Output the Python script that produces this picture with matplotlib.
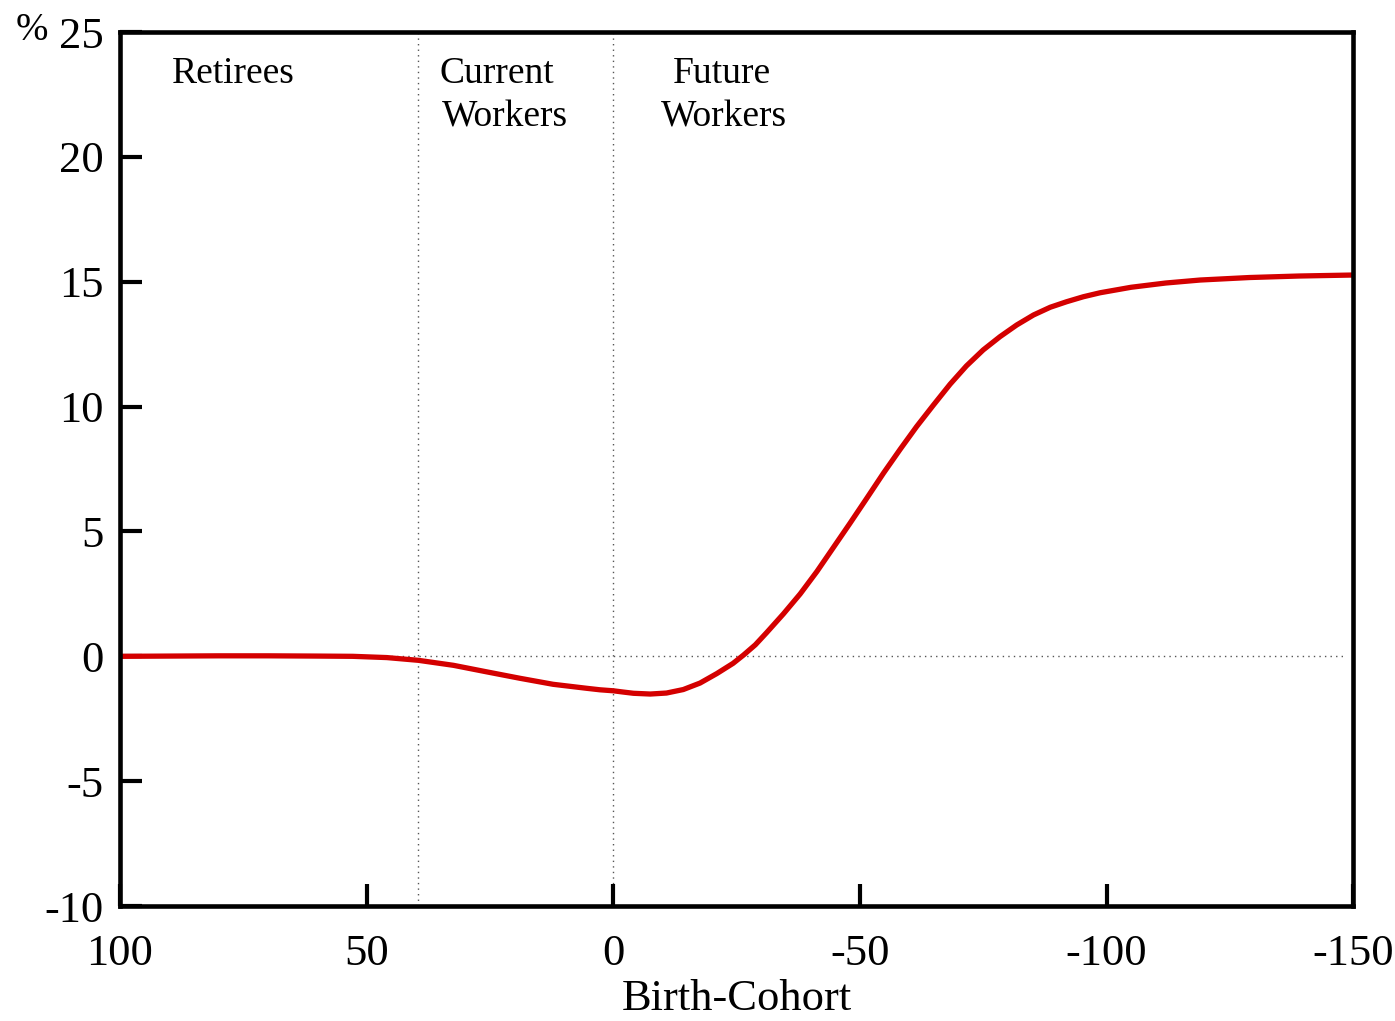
import numpy as np
import matplotlib
matplotlib.use('Agg')
import matplotlib.pyplot as plt

plt.rcParams['font.family'] = ['Liberation Serif', 'DejaVu Serif']

# birth cohort (reversed axis) and change in %
cohort = [100, 90, 80, 70, 60, 52.8, 45.9, 39.5, 32.4, 25.7, 18.9, 12.2, 5.4,
          2.7, 0, -2, -4.1, -7.5, -10.8, -14.2, -17.6, -21.0, -24.3, -26.4,
          -28.8, -31.1, -34.5, -37.9, -41.3, -44.6, -48.0, -51.4, -54.8, -58.2,
          -61.5, -64.9, -68.3, -71.6, -75.0, -78.4, -81.8, -85.2, -88.6, -91.9,
          -95.3, -98.7, -105, -112, -119, -129, -139, -150]
change = [0, 0.01, 0.02, 0.02, 0.01, 0.0, -0.05, -0.16, -0.36, -0.62, -0.88,
          -1.12, -1.28, -1.34, -1.38, -1.43, -1.48, -1.51, -1.47, -1.33, -1.07,
          -0.69, -0.28, 0.05, 0.46, 0.95, 1.7, 2.5, 3.4, 4.35, 5.33, 6.33,
          7.34, 8.30, 9.2, 10.06, 10.9, 11.63, 12.27, 12.8, 13.27, 13.67,
          13.98, 14.2, 14.4, 14.56, 14.78, 14.95, 15.07, 15.17, 15.23, 15.27]

group_edges = [39.5, 0]
x_ticks = [100, 50, 0, -50, -100, -150]
y_ticks = [-10, -5, 0, 5, 10, 15, 20, 25]

fig = plt.figure(figsize=(13.95, 10.21), dpi=100)
ax = fig.add_axes([0.086, 0.1126, 0.884, 0.856])

ax.plot([98, -148], [0, 0], color='#555555', lw=1.0, ls=(0, (1, 3)), zorder=1)
for xe in group_edges:
    ax.plot([xe, xe], [-10, 25], color='#555555', lw=1.0, ls=(0, (1, 3)), zorder=1)

ax.plot(cohort, change, color='#d40000', lw=3.8, zorder=2,
        solid_capstyle='butt', solid_joinstyle='round')

ax.set_xlim(100, -150)
ax.set_ylim(-10, 25)
ax.set_xticks(x_ticks)
ax.set_xticklabels([str(v) for v in x_ticks])
ax.set_yticks(y_ticks)
ax.set_yticklabels([str(v) for v in y_ticks])

for s in ax.spines.values():
    s.set_linewidth(3.3)
ax.tick_params(direction='in', length=16, width=3, labelsize=32)
ax.tick_params(axis='x', pad=20)
ax.tick_params(axis='y', pad=12)
for t in ax.xaxis.get_major_ticks() + ax.yaxis.get_major_ticks():
    t.tick1line.set_zorder(5)

ax.set_xlabel('Birth-Cohort', fontsize=32, labelpad=4)

ax.text(89.5, 23.35, 'Retirees', fontsize=27, ha='left', va='center')
ax.text(35.3, 23.35, 'Current', fontsize=27, ha='left', va='center')
ax.text(34.7, 21.6, 'Workers', fontsize=27, ha='left', va='center')
ax.text(-22, 23.35, 'Future', fontsize=27, ha='center', va='center')
ax.text(-22.5, 21.6, 'Workers', fontsize=27, ha='center', va='center')

fig.text(0.011, 0.970, '%', fontsize=28, ha='left', va='center')

fig.savefig('out.png', dpi=100)
